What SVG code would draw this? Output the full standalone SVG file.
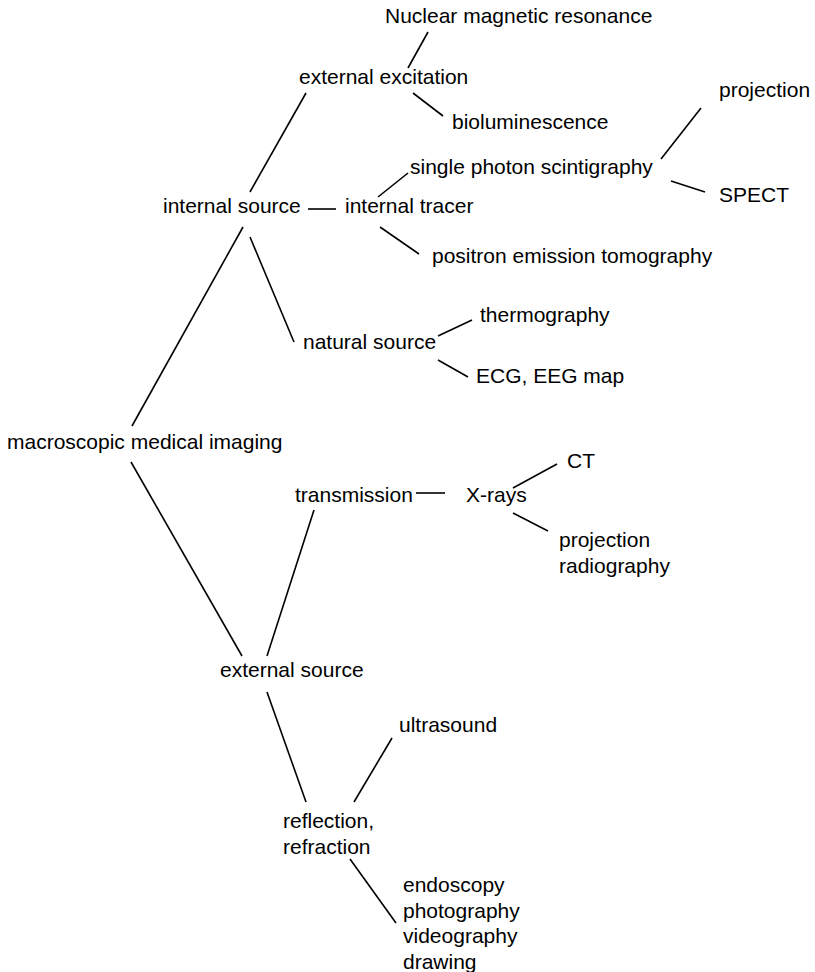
<svg xmlns="http://www.w3.org/2000/svg" width="815" height="972" viewBox="0 0 815 972">
<style>
text{font-family:"Liberation Sans",Arial,sans-serif;font-size:21px;fill:#000}
.c line{stroke:#000;stroke-width:1.6;stroke-linecap:butt}
</style>
<rect width="815" height="972" fill="#fff"/>
<g class="c" id="connectors">
<line x1="428" y1="32" x2="408" y2="68"/>
<line x1="413" y1="93" x2="443" y2="116"/>
<line x1="306" y1="93" x2="250" y2="192"/>
<line x1="308" y1="209" x2="336" y2="209"/>
<line x1="378" y1="197" x2="408" y2="173"/>
<line x1="661" y1="159" x2="701" y2="108"/>
<line x1="671" y1="181" x2="705" y2="192"/>
<line x1="380" y1="227" x2="419" y2="254"/>
<line x1="243" y1="227" x2="132" y2="426"/>
<line x1="250" y1="237" x2="294" y2="342"/>
<line x1="438" y1="336" x2="472" y2="320"/>
<line x1="438" y1="360" x2="468" y2="377"/>
<line x1="131" y1="462" x2="242" y2="656"/>
<line x1="314" y1="510" x2="267" y2="656"/>
<line x1="416" y1="493" x2="445" y2="493"/>
<line x1="513" y1="488" x2="557" y2="464"/>
<line x1="513" y1="513" x2="548" y2="531"/>
<line x1="267" y1="692" x2="306" y2="802"/>
<line x1="392" y1="738" x2="354" y2="802"/>
<line x1="350" y1="859" x2="396" y2="923"/>
</g>
<g id="nmr"><text x="385" y="23">Nuclear magnetic resonance</text></g>
<g id="external-excitation"><text x="299" y="84">external excitation</text></g>
<g id="bioluminescence"><text x="452" y="129">bioluminescence</text></g>
<g id="internal-source"><text x="163" y="213">internal source</text></g>
<g id="internal-tracer"><text x="345" y="213">internal tracer</text></g>
<g id="single-photon"><text x="410" y="174">single photon scintigraphy</text></g>
<g id="projection1"><text x="719" y="97">projection</text></g>
<g id="spect"><text x="719" y="202">SPECT</text></g>
<g id="pet"><text x="432" y="263">positron emission tomography</text></g>
<g id="natural-source"><text x="303" y="349">natural source</text></g>
<g id="thermography"><text x="480" y="322">thermography</text></g>
<g id="ecg"><text x="476" y="383">ECG, EEG map</text></g>
<g id="macroscopic"><text x="7" y="449">macroscopic medical imaging</text></g>
<g id="transmission"><text x="295" y="502">transmission</text></g>
<g id="xrays"><text x="466" y="502">X-rays</text></g>
<g id="ct"><text x="567" y="468">CT</text></g>
<g id="projection-radiography"><text x="559" y="547">projection</text><text x="559" y="573">radiography</text></g>
<g id="external-source"><text x="220" y="677">external source</text></g>
<g id="ultrasound"><text x="399" y="732">ultrasound</text></g>
<g id="reflection"><text x="283" y="828">reflection,</text><text x="283" y="854">refraction</text></g>
<g id="optical"><text x="403" y="892">endoscopy</text><text x="403" y="917.5">photography</text><text x="403" y="943">videography</text><text x="403" y="968.5">drawing</text></g>
</svg>
